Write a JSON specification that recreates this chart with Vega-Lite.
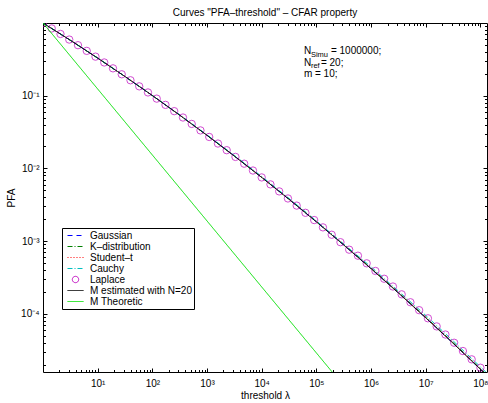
{
  "$schema": "https://vega.github.io/schema/vega-lite/v6.json",
  "width": 444,
  "height": 349,
  "autosize": {"type": "none"},
  "padding": {"left": 43, "top": 23, "right": 1, "bottom": 31},
  "config": {
    "font": "Liberation Sans",
    "view": {"stroke": "black", "strokeWidth": 1},
    "axis": {"grid": false, "domain": false, "tickColor": "black", "tickWidth": 1, "labelColor": "black", "titleColor": "black", "labelFontSize": 10, "titleFontSize": 10, "titleFontWeight": "normal", "labelFont": "Liberation Sans", "titleFont": "Liberation Sans", "labelOverlap": false, "labelFlush": false},
    "legend": {"labelFont": "Liberation Sans", "labelFontSize": 10, "labelColor": "black"}
  },
  "title": {"text": "Curves \"PFA–threshold\" – CFAR property", "fontSize": 10, "fontWeight": "normal", "anchor": "middle", "frame": "group", "baseline": "alphabetic", "offset": -3, "color": "black", "font": "Liberation Sans"},
  "datasets": {
    "sim": [
      {"series": "Gaussian", "lambda": 1, "pfa": 1},
      {"series": "Gaussian", "lambda": 3.1623, "pfa": 0.579},
      {"series": "Gaussian", "lambda": 10, "pfa": 0.329},
      {"series": "Gaussian", "lambda": 31.623, "pfa": 0.1835},
      {"series": "Gaussian", "lambda": 100, "pfa": 0.1005},
      {"series": "Gaussian", "lambda": 316.23, "pfa": 0.054},
      {"series": "Gaussian", "lambda": 1000, "pfa": 0.0285},
      {"series": "Gaussian", "lambda": 3162.3, "pfa": 0.01477},
      {"series": "Gaussian", "lambda": 10000, "pfa": 0.00751},
      {"series": "Gaussian", "lambda": 31623, "pfa": 0.00375},
      {"series": "Gaussian", "lambda": 100000, "pfa": 0.001837},
      {"series": "Gaussian", "lambda": 316228, "pfa": 0.000883},
      {"series": "Gaussian", "lambda": 1000000, "pfa": 0.000417},
      {"series": "Gaussian", "lambda": 3162278, "pfa": 0.0001933},
      {"series": "Gaussian", "lambda": 10000000, "pfa": 0.0000879},
      {"series": "Gaussian", "lambda": 31622777, "pfa": 0.0000393},
      {"series": "Gaussian", "lambda": 100000000, "pfa": 0.00001722},
      {"series": "Gaussian", "lambda": 132000000, "pfa": 0.0000141},
      {"series": "K–distribution", "lambda": 1, "pfa": 1},
      {"series": "K–distribution", "lambda": 3.1623, "pfa": 0.579},
      {"series": "K–distribution", "lambda": 10, "pfa": 0.329},
      {"series": "K–distribution", "lambda": 31.623, "pfa": 0.1835},
      {"series": "K–distribution", "lambda": 100, "pfa": 0.1005},
      {"series": "K–distribution", "lambda": 316.23, "pfa": 0.054},
      {"series": "K–distribution", "lambda": 1000, "pfa": 0.0285},
      {"series": "K–distribution", "lambda": 3162.3, "pfa": 0.01477},
      {"series": "K–distribution", "lambda": 10000, "pfa": 0.00755},
      {"series": "K–distribution", "lambda": 31623, "pfa": 0.0038},
      {"series": "K–distribution", "lambda": 100000, "pfa": 0.001874},
      {"series": "K–distribution", "lambda": 316228, "pfa": 0.000901},
      {"series": "K–distribution", "lambda": 1000000, "pfa": 0.000425},
      {"series": "K–distribution", "lambda": 3162278, "pfa": 0.000197},
      {"series": "K–distribution", "lambda": 10000000, "pfa": 0.0000897},
      {"series": "K–distribution", "lambda": 31622777, "pfa": 0.0000401},
      {"series": "K–distribution", "lambda": 100000000, "pfa": 0.0000176},
      {"series": "K–distribution", "lambda": 132000000, "pfa": 0.0000144},
      {"series": "Student–t", "lambda": 1, "pfa": 1},
      {"series": "Student–t", "lambda": 3.1623, "pfa": 0.579},
      {"series": "Student–t", "lambda": 10, "pfa": 0.329},
      {"series": "Student–t", "lambda": 31.623, "pfa": 0.1835},
      {"series": "Student–t", "lambda": 100, "pfa": 0.1005},
      {"series": "Student–t", "lambda": 316.23, "pfa": 0.054},
      {"series": "Student–t", "lambda": 1000, "pfa": 0.0285},
      {"series": "Student–t", "lambda": 3162.3, "pfa": 0.01477},
      {"series": "Student–t", "lambda": 10000, "pfa": 0.00751},
      {"series": "Student–t", "lambda": 31623, "pfa": 0.00377},
      {"series": "Student–t", "lambda": 100000, "pfa": 0.001852},
      {"series": "Student–t", "lambda": 316228, "pfa": 0.00089},
      {"series": "Student–t", "lambda": 1000000, "pfa": 0.000421},
      {"series": "Student–t", "lambda": 3162278, "pfa": 0.000195},
      {"series": "Student–t", "lambda": 10000000, "pfa": 0.0000888},
      {"series": "Student–t", "lambda": 31622777, "pfa": 0.0000397},
      {"series": "Student–t", "lambda": 100000000, "pfa": 0.0000174},
      {"series": "Student–t", "lambda": 132000000, "pfa": 0.0000142},
      {"series": "Cauchy", "lambda": 1, "pfa": 1},
      {"series": "Cauchy", "lambda": 3.1623, "pfa": 0.579},
      {"series": "Cauchy", "lambda": 10, "pfa": 0.329},
      {"series": "Cauchy", "lambda": 31.623, "pfa": 0.1835},
      {"series": "Cauchy", "lambda": 100, "pfa": 0.1005},
      {"series": "Cauchy", "lambda": 316.23, "pfa": 0.0545},
      {"series": "Cauchy", "lambda": 1000, "pfa": 0.0289},
      {"series": "Cauchy", "lambda": 3162.3, "pfa": 0.01505},
      {"series": "Cauchy", "lambda": 10000, "pfa": 0.00774},
      {"series": "Cauchy", "lambda": 31623, "pfa": 0.00386},
      {"series": "Cauchy", "lambda": 100000, "pfa": 0.001892},
      {"series": "Cauchy", "lambda": 316228, "pfa": 0.000909},
      {"series": "Cauchy", "lambda": 1000000, "pfa": 0.000442},
      {"series": "Cauchy", "lambda": 3162278, "pfa": 0.000205},
      {"series": "Cauchy", "lambda": 10000000, "pfa": 0.0000949},
      {"series": "Cauchy", "lambda": 31622777, "pfa": 0.0000424},
      {"series": "Cauchy", "lambda": 100000000, "pfa": 0.0000186},
      {"series": "Cauchy", "lambda": 132000000, "pfa": 0.0000152}
    ],
    "laplace": [
      {"series": "Laplace", "lambda": 1, "pfa": 1},
      {"series": "Laplace", "lambda": 1.4454, "pfa": 0.8413},
      {"series": "Laplace", "lambda": 2.0893, "pfa": 0.7063},
      {"series": "Laplace", "lambda": 3.02, "pfa": 0.592},
      {"series": "Laplace", "lambda": 4.3652, "pfa": 0.4951},
      {"series": "Laplace", "lambda": 6.3096, "pfa": 0.4135},
      {"series": "Laplace", "lambda": 9.1201, "pfa": 0.3444},
      {"series": "Laplace", "lambda": 13.183, "pfa": 0.2865},
      {"series": "Laplace", "lambda": 19.055, "pfa": 0.2378},
      {"series": "Laplace", "lambda": 27.542, "pfa": 0.197},
      {"series": "Laplace", "lambda": 39.811, "pfa": 0.163},
      {"series": "Laplace", "lambda": 57.544, "pfa": 0.1345},
      {"series": "Laplace", "lambda": 83.176, "pfa": 0.1108},
      {"series": "Laplace", "lambda": 120.23, "pfa": 0.09112},
      {"series": "Laplace", "lambda": 173.78, "pfa": 0.07478},
      {"series": "Laplace", "lambda": 251.19, "pfa": 0.06127},
      {"series": "Laplace", "lambda": 363.08, "pfa": 0.05009},
      {"series": "Laplace", "lambda": 524.81, "pfa": 0.04088},
      {"series": "Laplace", "lambda": 758.58, "pfa": 0.0333},
      {"series": "Laplace", "lambda": 1096.5, "pfa": 0.02706},
      {"series": "Laplace", "lambda": 1584.9, "pfa": 0.02196},
      {"series": "Laplace", "lambda": 2290.9, "pfa": 0.01779},
      {"series": "Laplace", "lambda": 3311.3, "pfa": 0.01438},
      {"series": "Laplace", "lambda": 4786.3, "pfa": 0.0116},
      {"series": "Laplace", "lambda": 6918.3, "pfa": 0.009343},
      {"series": "Laplace", "lambda": 10000, "pfa": 0.007508},
      {"series": "Laplace", "lambda": 14454, "pfa": 0.006025},
      {"series": "Laplace", "lambda": 20893, "pfa": 0.004825},
      {"series": "Laplace", "lambda": 30200, "pfa": 0.003855},
      {"series": "Laplace", "lambda": 43652, "pfa": 0.003075},
      {"series": "Laplace", "lambda": 63096, "pfa": 0.002448},
      {"series": "Laplace", "lambda": 91201, "pfa": 0.001946},
      {"series": "Laplace", "lambda": 131830, "pfa": 0.001543},
      {"series": "Laplace", "lambda": 190550, "pfa": 0.001222},
      {"series": "Laplace", "lambda": 275420, "pfa": 0.0009654},
      {"series": "Laplace", "lambda": 398110, "pfa": 0.0007613},
      {"series": "Laplace", "lambda": 575440, "pfa": 0.000629},
      {"series": "Laplace", "lambda": 831760, "pfa": 0.000494},
      {"series": "Laplace", "lambda": 1202300, "pfa": 0.000388},
      {"series": "Laplace", "lambda": 1737800, "pfa": 0.000303},
      {"series": "Laplace", "lambda": 2511900, "pfa": 0.000237},
      {"series": "Laplace", "lambda": 3630800, "pfa": 0.000185},
      {"series": "Laplace", "lambda": 5248100, "pfa": 0.000144},
      {"series": "Laplace", "lambda": 7585800, "pfa": 0.000112},
      {"series": "Laplace", "lambda": 10965000, "pfa": 0.0000866},
      {"series": "Laplace", "lambda": 15849000, "pfa": 0.000067},
      {"series": "Laplace", "lambda": 22909000, "pfa": 0.0000518},
      {"series": "Laplace", "lambda": 33113000, "pfa": 0.0000399},
      {"series": "Laplace", "lambda": 47863000, "pfa": 0.0000307},
      {"series": "Laplace", "lambda": 69183000, "pfa": 0.0000236},
      {"series": "Laplace", "lambda": 100000000, "pfa": 0.0000181},
      {"series": "Laplace", "lambda": 144540000, "pfa": 0.0000138}
    ],
    "ref": [
      {"series": "M estimated with N=20", "lambda": 1, "pfa": 1},
      {"series": "M estimated with N=20", "lambda": 3.1623, "pfa": 0.579},
      {"series": "M estimated with N=20", "lambda": 10, "pfa": 0.329},
      {"series": "M estimated with N=20", "lambda": 31.623, "pfa": 0.1835},
      {"series": "M estimated with N=20", "lambda": 100, "pfa": 0.1005},
      {"series": "M estimated with N=20", "lambda": 316.23, "pfa": 0.054},
      {"series": "M estimated with N=20", "lambda": 1000, "pfa": 0.0285},
      {"series": "M estimated with N=20", "lambda": 3162.3, "pfa": 0.01477},
      {"series": "M estimated with N=20", "lambda": 10000, "pfa": 0.00751},
      {"series": "M estimated with N=20", "lambda": 31623, "pfa": 0.00375},
      {"series": "M estimated with N=20", "lambda": 100000, "pfa": 0.001837},
      {"series": "M estimated with N=20", "lambda": 316228, "pfa": 0.000883},
      {"series": "M estimated with N=20", "lambda": 1000000, "pfa": 0.000417},
      {"series": "M estimated with N=20", "lambda": 3162278, "pfa": 0.0001933},
      {"series": "M estimated with N=20", "lambda": 10000000, "pfa": 0.0000879},
      {"series": "M estimated with N=20", "lambda": 31622777, "pfa": 0.0000393},
      {"series": "M estimated with N=20", "lambda": 100000000, "pfa": 0.00001722},
      {"series": "M estimated with N=20", "lambda": 132000000, "pfa": 0.0000141},
      {"series": "M Theoretic", "lambda": 1, "pfa": 1},
      {"series": "M Theoretic", "lambda": 194500, "pfa": 0.0000158}
    ]
  },
  "layer": [
    {
      "data": {"name": "sim"},
      "mark": {"type": "line", "strokeWidth": 1, "clip": true},
      "encoding": {
        "x": {"field": "lambda", "type": "quantitative", "scale": {"type": "log", "domain": [1, 132000000], "nice": false},
          "axis": {"orient": "bottom", "values": [10, 100, 1000, 10000, 100000, 1000000, 10000000, 100000000], "tickSize": -4, "labelPadding": 10, "labelExpr": "'10' + ['⁰','¹','²','³','⁴','⁵','⁶','⁷','⁸'][round(log(datum.value)/LN10)]", "title": "threshold λ", "titlePadding": 2}},
        "y": {"field": "pfa", "type": "quantitative", "scale": {"type": "log", "domain": [0.0000158, 1], "nice": false},
          "axis": {"orient": "left", "values": [0.0001, 0.001, 0.01, 0.1], "tickSize": -4, "labelPadding": 8, "labelExpr": "'10' + ['⁰','⁻¹','⁻²','⁻³','⁻⁴'][round(-log(datum.value)/LN10)]", "title": "PFA", "titlePadding": 4}},
        "color": {"field": "series", "type": "nominal",
          "scale": {"domain": ["Gaussian", "K–distribution", "Student–t", "Cauchy", "Laplace", "M estimated with N=20", "M Theoretic"], "range": ["#0000ff", "#008000", "#ff0000", "#00bfbf", "#bf00bf", "#000000", "#00e000"]},
          "legend": {"title": null, "orient": "none", "legendX": 19, "legendY": 205, "strokeColor": "black", "fillColor": "white", "padding": 2, "labelFontSize": 10, "labelColor": "black", "labelFont": "Liberation Sans", "labelOffset": 9, "symbolOffset": 6, "rowPadding": 0, "symbolSize": 100, "symbolStrokeWidth": 1, "symbolType": "M-1.6,0H1.6",
            "encode": {"symbols": {"update": {
              "shape": {"signal": "datum.value === 'Laplace' ? 'circle' : 'M-1.6,0H1.6'"},
              "size": {"signal": "datum.value === 'Laplace' ? 40 : 100"},
              "strokeDash": {"scale": "strokeDash", "field": "value"},
              "stroke": {"scale": "color", "field": "value"},
              "fill": {"value": "transparent"},
              "strokeWidth": {"value": 1}
            }}}}},
        "strokeDash": {"field": "series", "type": "nominal",
          "scale": {"domain": ["Gaussian", "K–distribution", "Student–t", "Cauchy", "Laplace", "M estimated with N=20", "M Theoretic"], "range": [[5, 4], [5, 2, 1, 2], [1, 2], [5, 2, 1, 2], [1, 0], [1, 0], [1, 0]]},
          "legend": null}
      }
    },
    {
      "data": {"name": "laplace"},
      "mark": {"type": "point", "shape": "circle", "filled": false, "size": 54, "strokeWidth": 1, "clip": true},
      "encoding": {
        "x": {"field": "lambda", "type": "quantitative",
          "axis": {"orient": "bottom", "values": [2,3,4,5,6,7,8,9,20,30,40,50,60,70,80,90,200,300,400,500,600,700,800,900,2000,3000,4000,5000,6000,7000,8000,9000,20000,30000,40000,50000,60000,70000,80000,90000,200000,300000,400000,500000,600000,700000,800000,900000,2000000,3000000,4000000,5000000,6000000,7000000,8000000,9000000,20000000,30000000,40000000,50000000,60000000,70000000,80000000,90000000], "tickSize": -2.5, "labels": false, "title": null}},
        "y": {"field": "pfa", "type": "quantitative",
          "axis": {"orient": "left", "values": [0.00002,0.00003,0.00004,0.00005,0.00006,0.00007,0.00008,0.00009,0.0002,0.0003,0.0004,0.0005,0.0006,0.0007,0.0008,0.0009,0.002,0.003,0.004,0.005,0.006,0.007,0.008,0.009,0.02,0.03,0.04,0.05,0.06,0.07,0.08,0.09,0.2,0.3,0.4,0.5,0.6,0.7,0.8,0.9], "tickSize": -2.5, "labels": false, "title": null}},
        "color": {"field": "series", "type": "nominal", "legend": null}
      }
    },
    {
      "data": {"name": "ref"},
      "mark": {"type": "line", "strokeWidth": 1, "clip": true},
      "encoding": {
        "x": {"field": "lambda", "type": "quantitative",
          "axis": {"orient": "top", "values": [10, 100, 1000, 10000, 100000, 1000000, 10000000, 100000000], "tickSize": -4, "labels": false, "title": null}},
        "y": {"field": "pfa", "type": "quantitative",
          "axis": {"orient": "right", "values": [0.0001, 0.001, 0.01, 0.1], "tickSize": -4, "labels": false, "title": null}},
        "color": {"field": "series", "type": "nominal", "legend": null},
        "strokeDash": {"field": "series", "type": "nominal", "legend": null}
      }
    },
    {
      "data": {"values": [{}]},
      "mark": {"type": "text", "text": "N", "align": "left", "baseline": "alphabetic", "fontSize": 10, "color": "black"},
      "encoding": {
        "x": {"datum": 59100, "type": "quantitative",
          "axis": {"orient": "top", "values": [2,3,4,5,6,7,8,9,20,30,40,50,60,70,80,90,200,300,400,500,600,700,800,900,2000,3000,4000,5000,6000,7000,8000,9000,20000,30000,40000,50000,60000,70000,80000,90000,200000,300000,400000,500000,600000,700000,800000,900000,2000000,3000000,4000000,5000000,6000000,7000000,8000000,9000000,20000000,30000000,40000000,50000000,60000000,70000000,80000000,90000000], "tickSize": -2.5, "labels": false, "title": null}},
        "y": {"datum": 0.3805, "type": "quantitative",
          "axis": {"orient": "right", "values": [0.00002,0.00003,0.00004,0.00005,0.00006,0.00007,0.00008,0.00009,0.0002,0.0003,0.0004,0.0005,0.0006,0.0007,0.0008,0.0009,0.002,0.003,0.004,0.005,0.006,0.007,0.008,0.009,0.02,0.03,0.04,0.05,0.06,0.07,0.08,0.09,0.2,0.3,0.4,0.5,0.6,0.7,0.8,0.9], "tickSize": -2.5, "labels": false, "title": null}}
      }
    },
    {
      "data": {"values": [{}]},
      "mark": {"type": "text", "text": "Simu", "align": "left", "baseline": "alphabetic", "fontSize": 7.5, "dx": 7, "dy": 3, "color": "black"},
      "encoding": {"x": {"datum": 59100, "type": "quantitative", "axis": null}, "y": {"datum": 0.3805, "type": "quantitative", "axis": null}}
    },
    {
      "data": {"values": [{}]},
      "mark": {"type": "text", "text": "= 1000000;", "align": "left", "baseline": "alphabetic", "fontSize": 10, "dx": 27, "color": "black"},
      "encoding": {"x": {"datum": 59100, "type": "quantitative", "axis": null}, "y": {"datum": 0.3805, "type": "quantitative", "axis": null}}
    },
    {
      "data": {"values": [{}]},
      "mark": {"type": "text", "text": "N", "align": "left", "baseline": "alphabetic", "fontSize": 10, "color": "black"},
      "encoding": {"x": {"datum": 59100, "type": "quantitative", "axis": null}, "y": {"datum": 0.2602, "type": "quantitative", "axis": null}}
    },
    {
      "data": {"values": [{}]},
      "mark": {"type": "text", "text": "ref", "align": "left", "baseline": "alphabetic", "fontSize": 7.5, "dx": 7, "dy": 2.5, "color": "black"},
      "encoding": {"x": {"datum": 59100, "type": "quantitative", "axis": null}, "y": {"datum": 0.2602, "type": "quantitative", "axis": null}}
    },
    {
      "data": {"values": [{}]},
      "mark": {"type": "text", "text": "= 20;", "align": "left", "baseline": "alphabetic", "fontSize": 10, "dx": 17, "color": "black"},
      "encoding": {"x": {"datum": 59100, "type": "quantitative", "axis": null}, "y": {"datum": 0.2602, "type": "quantitative", "axis": null}}
    },
    {
      "data": {"values": [{}]},
      "mark": {"type": "text", "text": "m = 10;", "align": "left", "baseline": "alphabetic", "fontSize": 10, "color": "black"},
      "encoding": {"x": {"datum": 59100, "type": "quantitative", "axis": null}, "y": {"datum": 0.1808, "type": "quantitative", "axis": null}}
    }
  ],
  "resolve": {"axis": {"x": "independent", "y": "independent"}}
}
